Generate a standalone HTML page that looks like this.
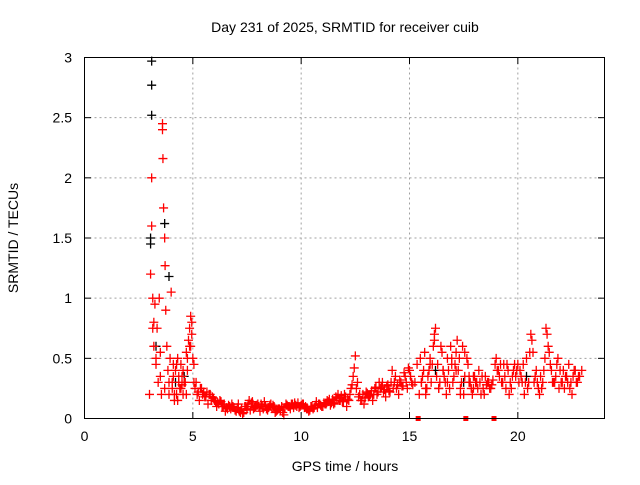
<!DOCTYPE html>
<html><head><meta charset="utf-8"><style>
body{margin:0;background:#fff;font-family:"Liberation Sans",sans-serif}
svg text{font-family:"Liberation Sans",sans-serif;font-size:14px;fill:#000}
</style></head><body>
<svg id="c" width="640" height="480">
<text x="345" y="32" text-anchor="middle">Day 231 of 2025, SRMTID for receiver cuib</text>
<text x="345" y="471" text-anchor="middle">GPS time / hours</text>
<text x="0" y="0" transform="translate(18,238) rotate(-90)" text-anchor="middle">SRMTID / TECUs</text>
<g id="grid"></g>
<g id="ticks"></g>
<g id="pts"></g>
<rect x="84.5" y="57.5" width="520" height="361" fill="none" stroke="#000"/>
</svg>
<script>
const xTicks=[0,5,10,15,20];
const yTicks=[0,0.5,1,1.5,2,2.5,3];
const yTickLabels=["0","0.5","1","1.5","2","2.5","3"];
const redT=[3.0,3.05,3.1,3.1,3.15,3.2,3.2,3.25,3.3,3.35,3.4,3.45,3.5,3.55,3.6,3.6,3.62,3.65,3.7,3.72,3.75,3.8,3.85,3.9,3.95,4.0,4.05,4.1,4.15,4.2,4.25,4.3,4.35,4.4,4.45,4.5,4.55,4.6,4.7,4.75,4.8,4.85,4.9,4.95,5.0,5.05,3.15,3.3,3.5,3.7,3.9,4.1,4.3,4.5,4.7,4.9,
5.2,5.4,5.6,5.8,6.0,6.2,6.4,6.6,6.8,7.0,7.2,7.4,7.6,7.8,8.0,8.2,8.4,8.6,8.8,9.0,9.2,9.4,9.6,9.8,10.0,10.2,10.4,10.6,10.8,11.0,11.2,11.4,11.6,11.8,12.0,12.2,12.4,12.5,12.6,12.8,13.0,13.2,13.4,13.6,13.8,14.0,14.2,14.4,14.6,14.8,15.0,15.1,
5.1,5.3,5.5,5.7,5.9,6.1,6.3,6.5,6.7,6.9,7.1,7.3,7.5,7.7,7.9,8.1,8.3,8.5,8.7,8.9,9.1,9.3,9.5,9.7,9.9,10.1,10.3,10.5,10.7,10.9,11.1,11.3,11.5,11.7,11.9,12.1,12.3,12.7,12.9,13.1,13.3,13.5,13.7,13.9,14.1,14.3,14.5,14.7,14.9,
15.4,15.5,15.6,15.7,15.8,15.9,16.0,16.1,16.2,16.3,16.4,16.5,16.6,16.7,16.8,16.9,17.0,17.1,17.2,17.3,17.4,17.5,17.6,17.7,17.8,17.9,18.0,18.2,18.4,18.6,18.8,18.9,19.0,19.2,19.4,19.6,19.8,20.0,20.2,20.4,20.6,20.8,21.0,21.2,21.3,21.4,21.6,21.8,22.0,22.2,22.4,22.6,22.8,
15.55,15.75,15.95,16.15,16.35,16.55,16.75,16.95,17.15,17.35,17.55,17.75,17.95,18.1,18.3,18.5,18.7,19.1,19.3,19.5,19.7,19.9,20.1,20.3,20.5,20.7,20.9,21.1,21.5,21.7,21.9,22.1,22.3,22.5,22.7];
const redV=[0.2,1.2,1.6,2.0,1.0,0.8,0.6,0.95,0.5,0.75,0.3,1.0,0.55,0.2,2.45,2.4,2.16,1.75,1.5,1.27,0.9,0.6,0.4,0.3,0.5,1.05,0.25,0.35,0.15,0.4,0.2,0.5,0.3,0.25,0.45,0.35,0.2,0.3,0.55,0.4,0.65,0.75,0.85,0.7,0.5,0.3,0.75,0.45,0.35,0.25,0.2,0.45,0.15,0.28,0.2,0.6,
0.2,0.25,0.18,0.2,0.15,0.12,0.1,0.08,0.12,0.06,0.05,0.1,0.15,0.08,0.12,0.1,0.08,0.12,0.05,0.08,0.03,0.1,0.12,0.1,0.11,0.1,0.07,0.09,0.12,0.1,0.15,0.13,0.18,0.15,0.2,0.15,0.35,0.52,0.3,0.15,0.22,0.2,0.25,0.3,0.22,0.28,0.4,0.25,0.3,0.35,0.4,0.3,
0.25,0.15,0.22,0.12,0.18,0.1,0.14,0.06,0.1,0.09,0.12,0.04,0.08,0.13,0.1,0.06,0.14,0.09,0.11,0.07,0.1,0.12,0.08,0.13,0.09,0.12,0.08,0.1,0.14,0.11,0.12,0.16,0.12,0.2,0.14,0.1,0.25,0.2,0.12,0.18,0.15,0.2,0.26,0.18,0.22,0.3,0.2,0.27,0.25,
0.0,0.5,0.35,0.55,0.25,0.4,0.3,0.6,0.75,0.45,0.3,0.55,0.35,0.2,0.4,0.6,0.3,0.45,0.65,0.5,0.3,0.2,0.0,0.45,0.3,0.2,0.35,0.4,0.25,0.3,0.28,0.0,0.5,0.45,0.35,0.2,0.4,0.45,0.3,0.5,0.7,0.35,0.2,0.4,0.75,0.6,0.3,0.45,0.3,0.35,0.25,0.4,0.35,
0.3,0.2,0.45,0.65,0.25,0.4,0.3,0.5,0.4,0.2,0.55,0.35,0.25,0.3,0.2,0.35,0.25,0.4,0.3,0.45,0.25,0.35,0.4,0.2,0.3,0.55,0.3,0.25,0.45,0.3,0.25,0.4,0.3,0.2,0.3];
/* regularly sampled series: start time, step (hours), values */
const denseStart=4.05;
const denseStep=0.1;
const denseV=[0.3,0.2,0.45,0.35,0.25,0.4,0.3,0.5,0.6,0.8,0.45,
0.3,0.22,0.25,0.2,0.18,0.22,0.2,0.15,0.17,0.14,
0.13,0.15,0.1,0.12,0.09,0.11,0.08,0.1,0.07,0.09,
0.06,0.08,0.05,0.1,0.12,0.07,0.14,0.09,0.11,0.1,
0.12,0.08,0.1,0.07,0.11,0.09,0.1,0.06,0.08,0.07,
0.05,0.09,0.11,0.1,0.12,0.09,0.11,0.13,0.1,0.12,
0.09,0.08,0.06,0.1,0.08,0.11,0.09,0.12,0.1,0.13,
0.12,0.14,0.11,0.16,0.13,0.17,0.15,0.19,0.14,0.18,
0.16,0.2,0.28,0.42,0.25,0.18,0.15,0.2,0.17,0.21,
0.19,0.23,0.2,0.26,0.22,0.25,0.3,0.24,0.27,0.23,
0.3,0.25,0.35,0.28,0.32,0.27,0.38,0.3,0.42,0.35,
0.28,0.3,0.45,0.2,0.3,0.4,0.25,0.35,0.5,0.45,
0.7,0.35,0.25,0.6,0.4,0.3,0.5,0.25,0.45,0.35,
0.55,0.4,0.25,0.6,0.35,0.5,0.3,0.25,0.35,0.3,
0.25,0.3,0.35,0.2,0.28,0.3,0.25,0.32,0.45,0.4,
0.35,0.3,0.45,0.25,0.4,0.3,0.35,0.45,0.4,0.3,
0.35,0.45,0.3,0.25,0.55,0.65,0.3,0.4,0.25,0.35,
0.3,0.5,0.7,0.55,0.4,0.3,0.35,0.5,0.4,0.3,
0.25,0.35,0.45,0.3,0.35,0.4,0.3,0.35,0.4];
const blackT=[3.1,3.1,3.1,3.05,3.05,3.7,3.9,3.3,4.2,4.6,16.2,17.5,20.4];
const blackV=[2.97,2.77,2.52,1.45,1.5,1.62,1.18,0.6,0.3,0.35,0.4,0.3,0.35];
const X=v=>84.5+v*520/24, Y=v=>418.5-v*361/3;
const NS="http://www.w3.org/2000/svg";
const mk=(t,a,p)=>{const e=document.createElementNS(NS,t);for(const k in a)e.setAttribute(k,a[k]);p.appendChild(e);return e;};
const grid=document.getElementById('grid'),ticks=document.getElementById('ticks'),pts=document.getElementById('pts');
xTicks.forEach(t=>{const x=X(t);
 if(t>0){const g=mk('line',{x1:x,x2:x,y1:57.5,y2:418.5,stroke:'#a0a0a0','stroke-dasharray':'2,3'},grid);
 
 }
 mk('line',{x1:x,x2:x,y1:418.5,y2:412,stroke:'#000'},ticks);mk('line',{x1:x,x2:x,y1:57.5,y2:64,stroke:'#000'},ticks);
 const l=mk('text',{x:x,y:441,'text-anchor':'middle'},ticks);l.textContent=t;
 
 });
yTicks.forEach((t,i)=>{const y=Y(t);
 if(t>0&&t<3){const g=mk('line',{x1:84.5,x2:604.5,y1:y,y2:y,stroke:'#a0a0a0','stroke-dasharray':'2,3'},grid);
 
 }
 mk('line',{x1:84.5,x2:91,y1:y,y2:y,stroke:'#000'},ticks);mk('line',{x1:604.5,x2:598,y1:y,y2:y,stroke:'#000'},ticks);
 const l=mk('text',{x:72,y:y+5,'text-anchor':'end'},ticks);l.textContent=yTickLabels[i];
 
 });
function plus(t,v,c){const x=X(t),y=Y(v);
 let p;
 if(v<=0.005){p=mk('rect',{x:x-2.5,y:y-2.5,width:5,height:5,fill:c},pts);}
 else p=mk('path',{d:`M${x-4.5},${y}H${x+4.5}M${x},${y-4.5}V${y+4.5}`,stroke:c,'stroke-width':1.3,fill:'none'},pts);
 
 }
blackT.forEach((t,i)=>plus(t,blackV[i],'#000'));
redT.forEach((t,i)=>plus(t,redV[i],'#ff0000'));
denseV.forEach((v,i)=>plus(denseStart+denseStep*i,v,'#ff0000'));
</script>
</body></html>
